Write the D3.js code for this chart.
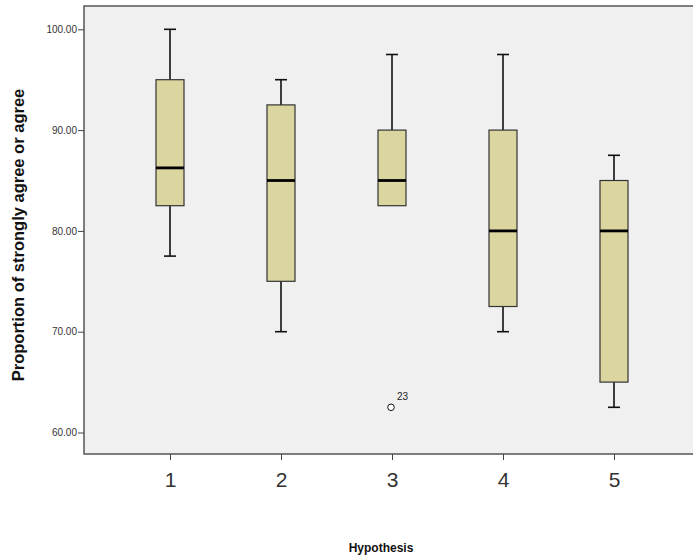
<!DOCTYPE html>
<html>
<head>
<meta charset="utf-8">
<script src="https://cdn.jsdelivr.net/npm/d3@7"></script>
<style>
  body { margin: 0; background: #fff; }
  svg { font-family: Arial, "Liberation Sans", sans-serif; }
</style>
</head>
<body>
<svg class="boxSVG" width="693" height="556"></svg>
<script>
// five-number summaries
const hypotheses = ['1', '2', '3', '4', '5'];
const whiskerLow = [77.5, 70, 82.5, 70, 62.5];
const q1 = [82.5, 75, 82.5, 72.5, 65];
const median = [86.25, 85, 85, 80, 80];
const q3 = [95, 92.5, 90, 90, 85];
const whiskerHigh = [100, 95, 97.5, 97.5, 87.5];
const outliers = [{group: '3', value: 62.5, label: '23'}];
const yTicks = [60, 70, 80, 90, 100];

const boxes = hypotheses.map((h, i) => ({
  h: h, lo: whiskerLow[i], q1: q1[i], med: median[i], q3: q3[i], hi: whiskerHigh[i]
}));

const svg = d3.select('svg.boxSVG');
const plot = {left: 84, right: 700, top: 6, bottom: 454};

const x = d3.scalePoint()
    .domain(hypotheses)
    .range([170, 614]);

const y = d3.scaleLinear()
    .domain([60, 100])
    .range([432.5, 29.3]);

const boxW = 28;
const capW = 12;

// plot background + frame
svg.append('rect')
    .attr('x', plot.left)
    .attr('y', plot.top)
    .attr('width', plot.right - plot.left)
    .attr('height', plot.bottom - plot.top)
    .style('fill', '#f0f0f0')
    .style('stroke', '#555')
    .style('stroke-width', 1.5);

// y axis
const yAxis = svg.append('g')
    .attr('class', 'yAxis')
    .attr('transform', `translate(${plot.left},0)`)
    .call(d3.axisLeft(y).tickValues(yTicks).tickSize(6).tickFormat(d3.format('.2f')));
yAxis.select('.domain').remove();
yAxis.selectAll('line').style('stroke', '#444');
yAxis.selectAll('text')
    .style('font-size', '10px')
    .style('fill', '#333')
    .attr('x', -7);

// x axis
const xAxis = svg.append('g')
    .attr('class', 'xAxis')
    .attr('transform', `translate(0,${plot.bottom})`)
    .call(d3.axisBottom(x).tickSize(6).tickPadding(12));
xAxis.select('.domain').remove();
xAxis.selectAll('line').style('stroke', '#444');
xAxis.selectAll('text')
    .style('font-size', '21px')
    .style('fill', '#333');

// boxes
const g = svg.append('g').attr('class', 'boxGroup')
    .selectAll('g')
    .data(boxes)
    .enter()
    .append('g');

// whisker stems
g.append('line')
    .attr('x1', d => x(d.h)).attr('x2', d => x(d.h))
    .attr('y1', d => y(d.hi)).attr('y2', d => y(d.q3))
    .style('stroke', '#111').style('stroke-width', 1.6);
g.append('line')
    .attr('x1', d => x(d.h)).attr('x2', d => x(d.h))
    .attr('y1', d => y(d.q1)).attr('y2', d => y(d.lo))
    .style('stroke', '#111').style('stroke-width', 1.6);

// caps
g.append('line')
    .attr('x1', d => x(d.h) - capW / 2).attr('x2', d => x(d.h) + capW / 2)
    .attr('y1', d => y(d.hi)).attr('y2', d => y(d.hi))
    .style('stroke', '#111').style('stroke-width', 1.6);
g.filter(d => d.lo < d.q1)
  .append('line')
    .attr('x1', d => x(d.h) - capW / 2).attr('x2', d => x(d.h) + capW / 2)
    .attr('y1', d => y(d.lo)).attr('y2', d => y(d.lo))
    .style('stroke', '#111').style('stroke-width', 1.6);

g.append('rect')
    .attr('x', d => x(d.h) - boxW / 2)
    .attr('y', d => y(d.q3))
    .attr('width', boxW)
    .attr('height', d => y(d.q1) - y(d.q3))
    .style('fill', '#dbd6a0')
    .style('stroke', '#333')
    .style('stroke-width', 1.2);

g.append('line')
    .attr('x1', d => x(d.h) - boxW / 2).attr('x2', d => x(d.h) + boxW / 2)
    .attr('y1', d => y(d.med)).attr('y2', d => y(d.med))
    .style('stroke', '#000').style('stroke-width', 2.8);

// outliers
const out = svg.append('g').attr('class', 'outliers')
    .selectAll('g')
    .data(outliers)
    .enter()
    .append('g');
out.append('circle')
    .attr('cx', d => x(d.group) - 1)
    .attr('cy', d => y(d.value))
    .attr('r', 3.3)
    .style('fill', '#fff')
    .style('stroke', '#111')
    .style('stroke-width', 1);
out.append('text')
    .attr('x', d => x(d.group) + 5)
    .attr('y', d => y(d.value) - 7)
    .text(d => d.label)
    .style('font-size', '10px')
    .style('fill', '#222');

// axis titles
svg.append('text')
    .attr('transform', 'translate(24,235) rotate(-90)')
    .style('text-anchor', 'middle')
    .style('font-size', '16.5px')
    .style('font-weight', 'bold')
    .style('fill', '#111')
    .text('Proportion of strongly agree or agree');

svg.append('text')
    .attr('x', 381)
    .attr('y', 552)
    .style('text-anchor', 'middle')
    .style('font-size', '12px')
    .style('font-weight', 'bold')
    .style('fill', '#111')
    .text('Hypothesis');
</script>
</body>
</html>
